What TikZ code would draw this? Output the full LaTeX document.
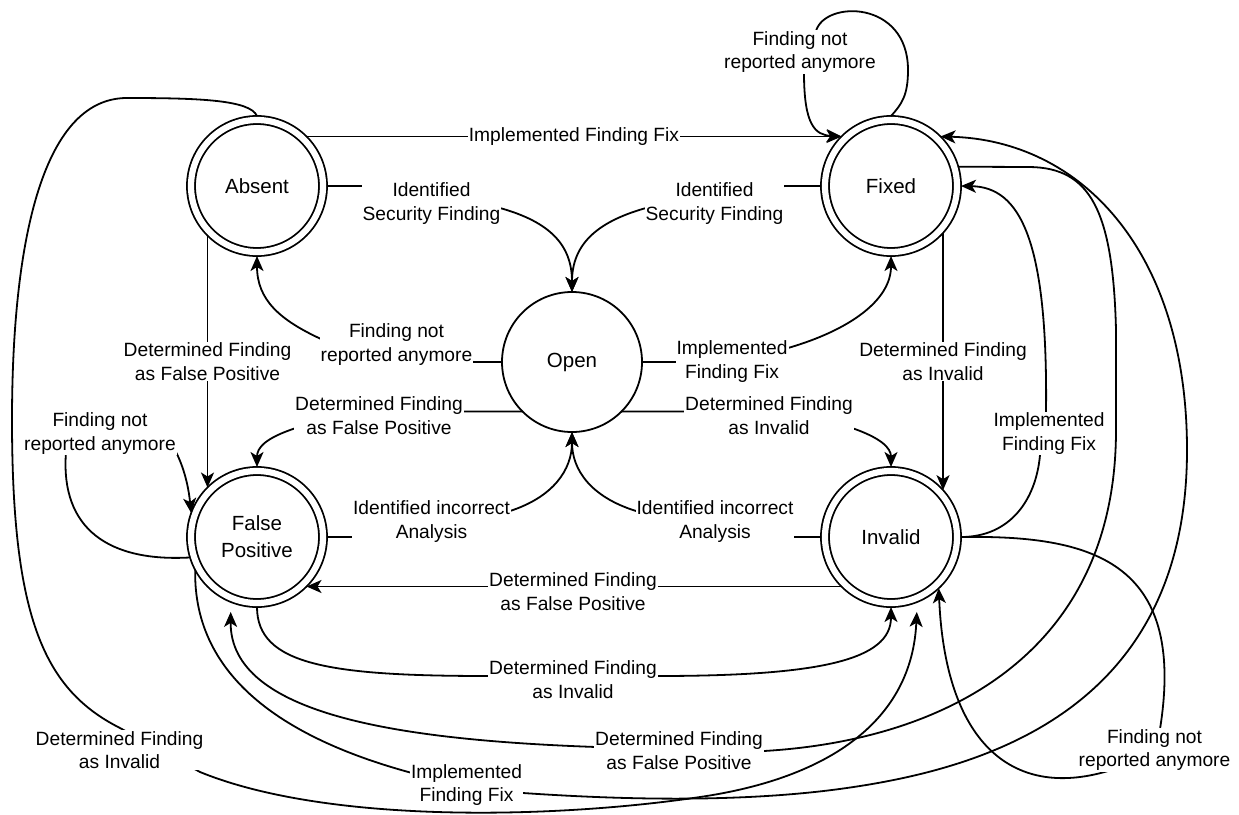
\documentclass[tikz,border=0pt]{standalone}
\usepackage{fontspec}
\setmainfont{Liberation Sans}
\usetikzlibrary{arrows.meta}
\newcommand\lblsize{\fontsize{19.2}{23.5}\selectfont}
\newcommand\statesize{\fontsize{20.5}{27}\selectfont}

\begin{document}
\begin{tikzpicture}[x=1pt,y=-1pt,
  state/.style={circle, draw, line width=1.8pt, double, double distance=6.2pt,
    minimum size=132pt, inner sep=0pt, outer sep=4pt, font=\statesize, align=center},
  openstate/.style={circle, draw, line width=1.8pt, minimum size=140pt,
    inner sep=0pt, outer sep=0pt, font=\statesize},
  edge/.style={draw, line width=1.8pt, -{Stealth[length=15pt,width=13pt,inset=4pt]}},
  lbl/.style={fill=white, inner sep=1pt, align=center, font=\lblsize},
]
% canvas
\fill[white] (0,0) rectangle (1239,814);
\useasboundingbox (0,0) rectangle (1239,814);

% states
\node[state] (A) at (257,186) {Absent};
\node[state] (F) at (891,186) {Fixed};
\node[openstate] (O) at (572,362) {Open};
\node[state] (P) at (257,537) {False\\Positive};
\node[state] (I) at (891,537) {Invalid};

% Absent -> Fixed
\draw[edge] (A.45) -- node[lbl] (l1) {Implemented Finding Fix} (F.135);

% Absent / Fixed -> Open
\draw[edge] (A.east) -- (363,186) -- (500,208)
  node[lbl] (l2) at (431.5,203.5) {Identified\\Security Finding}
  .. controls (550,222) and (572,245) .. (O.north);
\draw[edge] (F.west) -- (785,186) -- (646,208)
  node[lbl] (l3) at (714.5,203.5) {Identified\\Security Finding}
  .. controls (596,222) and (572,245) .. (O.north);

% Open -> Absent
\draw[edge] (O.west) -- (474,362) -- (321,339)
  node[lbl] (l4) at (396.5,344.5) {Finding not\\reported anymore}
  .. controls (280,320) and (257,300) .. (A.south);

% Open -> Fixed
\draw[edge] (O.east) -- (677,362) -- (788,348)
  node[lbl] (l5) at (732,361.5) {Implemented\\Finding Fix}
  .. controls (850,330) and (891,300) .. (F.south);

% vertical transitions
\draw[edge] (A.-135.6) -- node[lbl] (l6) {Determined Finding\\as False Positive} (P.135.6);
\draw[edge] (F.-42) -- node[lbl] (l7) {Determined Finding\\as Invalid} (I.42);

% Open -> False Positive / Invalid
\draw[edge] (O.-135) -- (463,411.5) -- (296,428)
  node[lbl] (l8) at (379,415.5) {Determined Finding\\as False Positive}
  .. controls (265,438) and (257,448) .. (P.north);
\draw[edge] (O.-45) -- (685,411.5) -- (852,428)
  node[lbl] (l9) at (769,415.5) {Determined Finding\\as Invalid}
  .. controls (881,438) and (891,448) .. (I.north);

% False Positive / Invalid -> Open
\draw[edge] (P.east) -- (353,537) -- (510,511)
  node[lbl] (l10) at (431.5,521.5) {Identified incorrect\\Analysis}
  .. controls (553,497) and (572,470) .. (O.south);
\draw[edge] (I.west) -- (794,537) -- (636,511)
  node[lbl] (l11) at (715,521.5) {Identified incorrect\\Analysis}
  .. controls (591,497) and (572,470) .. (O.south);

% Invalid -> False Positive
\draw[edge] (I.-135) -- (P.-45);
\node[lbl] (l12) at (573,591.5) {Determined Finding\\as False Positive};

% False Positive -> Invalid
\draw[edge] (P.south) .. controls (257,665) and (330,676) .. (489,676) -- (657,676)
  node[lbl] (l13) at (573,679.5) {Determined Finding\\as Invalid}
  .. controls (820,676) and (891,660) .. (I.south);

% Fixed -> False Positive
\draw[edge, shorten >=10pt] (F.16) -- (1030,167)
  .. controls (1090,168) and (1113,210) .. (1116,330) -- (1116,430)
  .. controls (1116,650) and (950,740) .. (764,751) -- (596,747)
  node[lbl] (l14) at (679,750.5) {Determined Finding\\as False Positive}
  .. controls (400,740) and (230,715) .. (P.-112);

% False Positive -> Fixed
\draw[edge] (P.-152) .. controls (193,680) and (290,740) .. (412,773) -- (523,793)
  node[lbl] (l15) at (466.5,785) {Implemented\\Finding Fix}
  .. controls (640,801) and (760,802) .. (860,786)
  .. controls (1000,764) and (1187,700) .. (1187,450)
  .. controls (1187,250) and (1080,140) .. (F.45);

% Invalid -> Fixed
\draw[edge] (I.east) .. controls (1010,537) and (1036,500) .. (1040,455) -- (1046,412)
  node[lbl] (l16) at (1049,433.5) {Implemented\\Finding Fix}
  .. controls (1048,240) and (1020,187) .. (F.east);

% Invalid self loop
\draw[edge] (I.east) .. controls (1090,535) and (1187,560) .. (1160,729) -- (1108,771)
  node[lbl] (l17) at (1154.5,750) {Finding not\\reported anymore}
  .. controls (1010,800) and (945,740) .. (I.-47);

% Absent -> Invalid
\draw[edge, shorten >=10pt] (A.north) .. controls (250,100) and (200,98) .. (127,98)
  .. controls (40,98) and (12,250) .. (12,420)
  .. controls (12,620) and (45,690) .. (120,728) -- (200,772)
  node[lbl] (l18) at (119.5,750) {Determined Finding\\as Invalid}
  .. controls (330,825) and (560,818) .. (700,797)
  .. controls (830,778) and (912,720) .. (I.-68);

% False Positive self loop
\draw[edge] (P.197) .. controls (110,562) and (60,530) .. (66,452) -- (176,452)
  node[lbl] (l19) at (100,433.5) {Finding not\\reported anymore}
  .. controls (186,472) and (189,492) .. (P.160);

% Fixed self loop
\draw[edge] (F.north) .. controls (902,104) and (908,95) .. (908,70)
  .. controls (908,0) and (825,0) .. (816,31) -- (804,73)
  node[lbl] (l20) at (800,52) {Finding not\\reported anymore}
  .. controls (804,125) and (815,135) .. (F.135);
\end{tikzpicture}
\end{document}
